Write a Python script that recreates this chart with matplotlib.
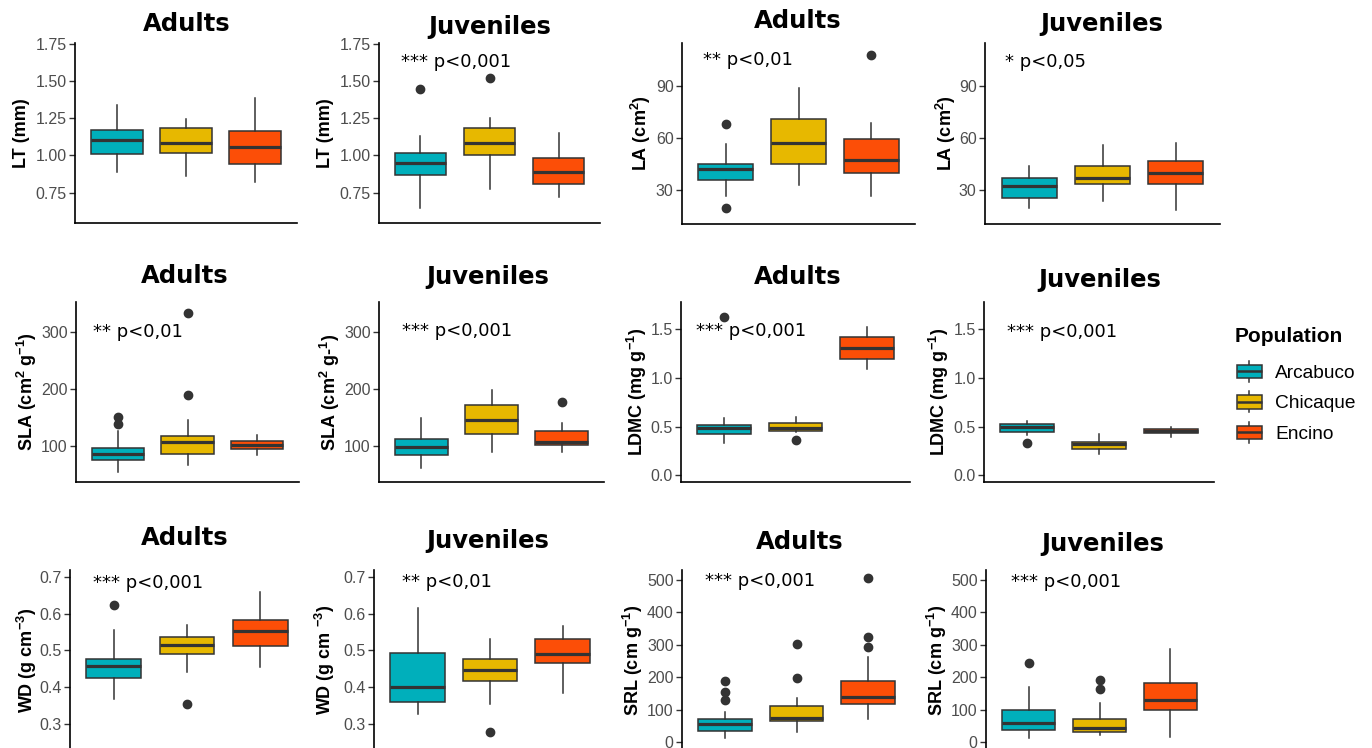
import matplotlib
matplotlib.use("Agg")
import matplotlib.pyplot as plt
from matplotlib.patches import Rectangle
from matplotlib.lines import Line2D
from matplotlib.legend_handler import HandlerBase
from matplotlib.ticker import FormatStrFormatter

plt.rcParams['font.family'] = ['Liberation Sans', 'DejaVu Sans']
plt.rcParams['mathtext.default'] = 'regular'

W, H = 1372, 748

populations = ["Arcabuco", "Chicaque", "Encino"]
pop_colors = ["#00AFBB", "#E7B800", "#FC4E07"]

# per population: lower whisker, Q1, median, Q3, upper whisker
lt_adults = [[0.886, 1.009, 1.107, 1.174, 1.341],
             [0.862, 1.016, 1.085, 1.188, 1.248],
             [0.824, 0.944, 1.058, 1.163, 1.386]]
lt_adults_out = [[], [], []]
lt_juv = [[0.643, 0.866, 0.949, 1.018, 1.129],
          [0.777, 1.000, 1.087, 1.185, 1.252],
          [0.719, 0.808, 0.886, 0.980, 1.150]]
lt_juv_out = [[1.449], [1.52], []]

la_adults = [[26.4, 35.9, 41.9, 45.0, 56.3],
             [33.1, 45.0, 57.4, 70.8, 88.7],
             [26.7, 39.8, 47.4, 59.3, 68.5]]
la_adults_out = [[68.1, 19.6], [], [107.8]]
la_juv = [[19.6, 25.6, 32.1, 36.9, 43.6],
          [23.5, 33.5, 36.9, 43.6, 55.9],
          [18.3, 33.5, 40.0, 46.9, 57.4]]
la_juv_out = [[], [], []]

sla_adults = [[53.9, 76.1, 86.0, 96.5, 125.7],
              [67.3, 86.6, 107.0, 116.9, 146.1],
              [83.7, 95.3, 102.3, 109.3, 119.8]]
sla_adults_out = [[150.7, 139.1], [334.4, 190.4], []]
sla_juv = [[61.5, 84.3, 98.3, 112.2, 149.0],
           [88.9, 121.6, 146.1, 172.3, 198.5],
           [88.9, 101.7, 106.4, 127.4, 140.2]]
sla_juv_out = [[], [], [177.6]]

ldmc_adults = [[0.326, 0.422, 0.480, 0.515, 0.583],
               [0.445, 0.456, 0.490, 0.532, 0.600],
               [1.088, 1.191, 1.304, 1.417, 1.527]]
ldmc_adults_out = [[1.623], [0.360], []]
ldmc_juv = [[0.412, 0.446, 0.491, 0.525, 0.559],
            [0.216, 0.268, 0.319, 0.343, 0.422],
            [0.395, 0.429, 0.453, 0.474, 0.491]]
ldmc_juv_out = [[0.333], [], []]

wd_adults = [[0.368, 0.4245, 0.459, 0.478, 0.556],
             [0.441, 0.490, 0.5145, 0.536, 0.568],
             [0.456, 0.511, 0.552, 0.584, 0.659]]
wd_adults_out = [[0.6245], [0.3545], []]
wd_juv = [[0.327, 0.360, 0.400, 0.493, 0.6155],
          [0.3545, 0.4155, 0.447, 0.476, 0.531],
          [0.384, 0.465, 0.491, 0.532, 0.567]]
wd_juv_out = [[], [0.279], []]

srl_adults = [[12, 33, 56, 71, 91],
              [31, 66, 74, 112, 135.5],
              [71, 118, 139, 187, 262]]
srl_adults_out = [[189, 153, 130], [302, 197], [507, 325, 294]]
srl_juv = [[12, 38, 58.5, 100, 169],
           [20.5, 31, 43, 72, 120],
           [14, 97.5, 128, 182, 286]]
srl_juv_out = [[243], [192, 164], []]

p_notes = ["", "*** p<0,001", "** p<0,01", "* p<0,05",
           "** p<0,01", "*** p<0,001", "*** p<0,001", "*** p<0,001",
           "*** p<0,001", "** p<0,01", "*** p<0,001", "*** p<0,001"]

# panel layout in pixels: (left, top, width, height), ylabel x, title (x, y), note (xfrac, yfrac)
panels = [
    (lt_adults, lt_adults_out, "Adults", "LT (mm)", (0.545, 1.757), [0.75, 1.0, 1.25, 1.5, 1.75], "%.2f",
     (75, 43, 222, 180), 22, (187, 24), (0.10, 0.89)),
    (lt_juv, lt_juv_out, "Juveniles", "LT (mm)", (0.545, 1.757), [0.75, 1.0, 1.25, 1.5, 1.75], "%.2f",
     (379, 43, 221, 180), 326, (490, 27), (0.10, 0.894)),
    (la_adults, la_adults_out, "Adults", "LA (cm$^2$)", (10.4, 114.8), [30, 60, 90], "%d",
     (682, 43, 233, 181), 641, (798, 21), (0.09, 0.906)),
    (la_juv, la_juv_out, "Juveniles", "LA (cm$^2$)", (10.4, 114.8), [30, 60, 90], "%d",
     (985, 43, 235, 181), 946, (1102, 24), (0.085, 0.895)),
    (sla_adults, sla_adults_out, "Adults", "SLA (cm$^2$ g$^{-1}$)", (37, 353), [100, 200, 300], "%d",
     (76, 302, 223, 180), 27, (185, 276), (0.075, 0.833)),
    (sla_juv, sla_juv_out, "Juveniles", "SLA (cm$^2$ g-$^1$)", (37, 353), [100, 200, 300], "%d",
     (379, 302, 225, 180), 330, (488, 277), (0.10, 0.84)),
    (ldmc_adults, ldmc_adults_out, "Adults", "LDMC (mg g$^{-1}$)", (-0.07, 1.78), [0.0, 0.5, 1.0, 1.5], "%.1f",
     (681, 302, 229, 180), 637, (798, 277), (0.065, 0.84)),
    (ldmc_juv, ldmc_juv_out, "Juveniles", "LDMC (mg g$^{-1}$)", (-0.07, 1.78), [0.0, 0.5, 1.0, 1.5], "%.1f",
     (984, 302, 230, 180), 939, (1100, 280), (0.10, 0.833)),
    (wd_adults, wd_adults_out, "Adults", "WD (g cm$^{-3}$)", (0.229, 0.719), [0.3, 0.4, 0.5, 0.6, 0.7], "%.1f",
     (70, 570, 234, 180), 27, (185, 538), (0.10, 0.928)),
    (wd_juv, wd_juv_out, "Juveniles", "WD (g cm $^{-3}$)", (0.229, 0.719), [0.3, 0.4, 0.5, 0.6, 0.7], "%.1f",
     (374, 570, 232, 180), 325, (488, 541), (0.12, 0.933)),
    (srl_adults, srl_adults_out, "Adults", "SRL (cm g$^{-1}$)", (-25, 531), [0, 100, 200, 300, 400, 500], "%d",
     (682, 570, 229, 180), 633, (800, 542), (0.10, 0.94)),
    (srl_juv, srl_juv_out, "Juveniles", "SRL (cm g$^{-1}$)", (-25, 531), [0, 100, 200, 300, 400, 500], "%d",
     (986, 570, 227, 180), 937, (1103, 544), (0.11, 0.933)),
]

dark = "#333333"

fig = plt.figure(figsize=(W / 100, H / 100), dpi=100)
fig.patch.set_facecolor("white")

for i, (summ, outs, title, ylab, ylim, yticks, fmt, rect, ylab_x, title_xy, note_xy) in enumerate(panels):
    left, top, w, h = rect
    ax = fig.add_axes([left / W, 1 - (top + h) / H, w / W, h / H])
    stats = [dict(whislo=s[0], q1=s[1], med=s[2], q3=s[3], whishi=s[4], fliers=o)
             for s, o in zip(summ, outs)]
    bp = ax.bxp(stats, positions=[1, 2, 3], widths=0.75, patch_artist=True, showcaps=False,
                boxprops=dict(edgecolor=dark, linewidth=1.1),
                whiskerprops=dict(color=dark, linewidth=1.1),
                medianprops=dict(color=dark, linewidth=2.3, solid_capstyle="butt"),
                flierprops=dict(marker="o", markerfacecolor=dark, markeredgecolor=dark,
                                markersize=6, linestyle="none"))
    for box, c in zip(bp["boxes"], pop_colors):
        box.set_facecolor(c)
    ax.set_xlim(0.4, 3.6)
    ax.set_ylim(*ylim)
    ax.set_yticks(yticks)
    ax.yaxis.set_major_formatter(FormatStrFormatter(fmt))
    ax.set_xticks([])
    for side in ["top", "right"]:
        ax.spines[side].set_visible(False)
    for side in ["left", "bottom"]:
        ax.spines[side].set_linewidth(1.2)
        ax.spines[side].set_color("black")
    ax.tick_params(axis="y", direction="out", length=4, width=1, color=dark,
                   labelsize=11.5, labelcolor="#4D4D4D", pad=2)
    ax.set_facecolor("none")
    if p_notes[i]:
        ax.text(note_xy[0], note_xy[1], p_notes[i], transform=ax.transAxes, ha="left", va="center",
                fontsize=13, family="DejaVu Sans", color="black")
    fig.text(ylab_x / W, 1 - (top + h / 2) / H, ylab, rotation=90, ha="center", va="center",
             fontsize=13, fontweight="bold", color="black")
    fig.text(title_xy[0] / W, 1 - title_xy[1] / H, title, ha="center", va="center",
             fontsize=17.5, fontweight="bold", family="DejaVu Sans", color="black")


class BoxKeyHandler(HandlerBase):
    # small boxplot glyph used as legend key
    def create_artists(self, legend, orig_handle, xdescent, ydescent, width, height, fontsize, trans):
        x0, y0 = -xdescent, -ydescent
        cx = x0 + width / 2
        b0, b1 = y0 + 0.18 * height, y0 + 0.82 * height
        lo = Line2D([cx, cx], [y0, b0], color=dark, lw=1.1, transform=trans)
        hi = Line2D([cx, cx], [b1, y0 + height], color=dark, lw=1.1, transform=trans)
        box = Rectangle((x0, b0), width, b1 - b0, facecolor=orig_handle.get_facecolor(),
                        edgecolor=dark, lw=1.1, transform=trans)
        med = Line2D([x0, x0 + width], [y0 + height / 2] * 2, color=dark, lw=1.8,
                     solid_capstyle="butt", transform=trans)
        return [lo, hi, box, med]


fig.text(1235 / W, 1 - 337 / H, "Population", ha="left", va="center",
         fontsize=15, fontweight="bold", color="black")
handles = [Rectangle((0, 0), 1, 1, facecolor=c) for c in pop_colors]
leg = fig.legend(handles, populations, loc="upper left",
                 bbox_to_anchor=(1237 / W, 1 - 361 / H), frameon=False, borderpad=0,
                 borderaxespad=0, fontsize=13.8, handlelength=1.3, handleheight=1.3,
                 labelspacing=0.5, handletextpad=0.68,
                 handler_map={Rectangle: BoxKeyHandler()})

fig.savefig("out.png", dpi=100, facecolor="white")
